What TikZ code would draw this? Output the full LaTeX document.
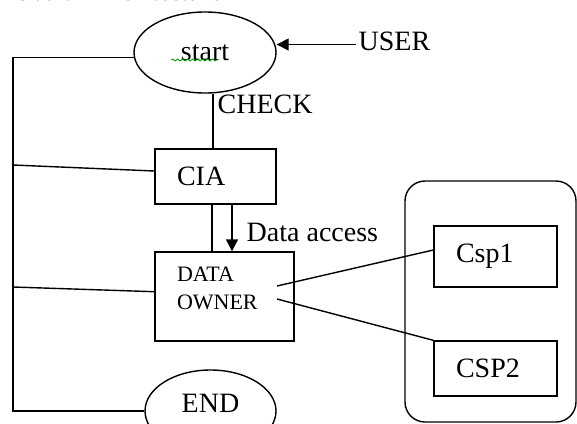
\documentclass[tikz,border=0pt]{standalone}
\usepackage{fontspec}
\setmainfont{Liberation Serif}
\usetikzlibrary{shapes.geometric, arrows.meta, decorations.pathmorphing}
\tikzset{every node/.style={font=\fontsize{14}{17}\selectfont},
    box/.style={draw, rectangle, align=left, inner xsep=11pt, inner ysep=0pt, text width=#1},
    box/.default=38.5pt,
    oval/.style={draw, ellipse, inner sep=0pt},
    tip/.style={-{Triangle[length=6pt,width=6pt]}},
    squiggle/.style={green!60!black, line width=0.4pt, decorate,
        decoration={snake, amplitude=0.5pt, segment length=2.5pt}}}

\begin{document}
\begin{tikzpicture}[x=0.5pt, y=-0.5pt, line width=0.7pt]
    \useasboundingbox (0,0) rectangle (577,423);
    \node[anchor=base west, inner sep=0pt, font=\bfseries\fontsize{11.7}{14}\selectfont] (title) at (13,1) {Overall Architecture};

    % flow column
    \node[oval, minimum width=71pt, minimum height=40.5pt] (start) at (205,52.5) {start\hspace{11pt}};
    \draw[squiggle] (171,60) -- (218,60);
    \node[anchor=west, inner sep=1pt] (user) at (356,41) {USER};
    \node[box, minimum height=27.5pt] (cia) at (215.5,176.5) {CIA};
    \node[box=47.5pt, minimum height=44.5pt, font=\fontsize{11}{14}\selectfont] (owner) at (224.5,296.5) {DATA\\OWNER\rule[-8.5pt]{0pt}{0pt}};
    \node[oval, minimum width=65.5pt, minimum height=41pt] (end) at (210.5,411) {END\rule[-8pt]{0pt}{0pt}};

    % cloud side
    \node[draw, rounded corners=10pt, minimum width=85.5pt, minimum height=120.5pt] (cloud) at (490.5,301.5) {};
    \node[box=39.5pt, minimum height=30.5pt] (csp1) at (495.5,256.5) {Csp1};
    \node[box=39.5pt, minimum height=27.5pt] (csp2) at (495.5,368.5) {CSP2};

    \coordinate (rail) at (13,0);
    \coordinate (ciaRail) at (13,165);
    \coordinate (ownerRail) at (13,287);
    \coordinate (checkFoot) at ([xshift=-1.25pt]cia.north);
    \coordinate (plainTop) at ([xshift=-1.75pt]cia.south);
    \coordinate (accessTop) at ([xshift=8.25pt]cia.south);

    \draw (start.184) -- (start.184 -| rail) -- (end.west -| rail) -- (end.west);
    \draw (ciaRail) -- ([yshift=2.75pt]cia.west);
    \draw (ownerRail) -- ([yshift=2.4pt]owner.west);
    \draw[tip] ([yshift=-1.75pt]user.west) -- ([yshift=-1.75pt]user.west -| start.east);
    \draw (checkFoot) -- node[pos=0.8, right, inner sep=2pt] {CHECK} (checkFoot |- start.south);
    \draw (plainTop) -- (plainTop |- owner.north);
    \draw[tip] (accessTop) -- node[pos=0.6, right=6pt, inner sep=1pt] {Data access} (accessTop |- owner.north);
    \draw ([xshift=26.25pt,yshift=5.25pt]owner.center) -- ([yshift=3.25pt]csp1.west);
    \draw ([xshift=26.25pt,yshift=-1.25pt]owner.center) -- (csp2.north west);
\end{tikzpicture}
\end{document}
